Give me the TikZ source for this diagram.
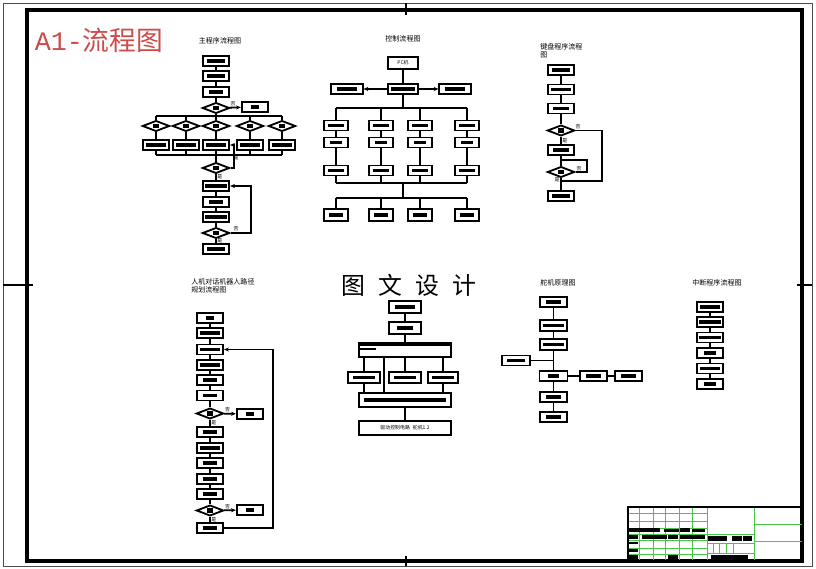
\documentclass[tikz,border=0pt]{standalone}
\usepackage{fontspec}
\newfontfamily\cjk{Noto Sans CJK SC}
\newfontfamily\latinmono{Liberation Mono}
\usetikzlibrary{shapes.geometric, arrows.meta}

\newcommand{\tb}[1][4.6]{\rule{#1mm}{0.8mm}}
\newcommand{\db}{\rule{1.6mm}{1.1mm}}

\definecolor{stamp}{RGB}{205,75,75}
\definecolor{gridgreen}{RGB}{70,200,70}

\tikzset{
  box/.style={draw, line width=1.3pt, minimum width=6.6mm, minimum height=2.5mm, inner sep=0pt, fill=white},
  dec/.style={diamond, draw, line width=1.3pt, minimum width=6.8mm, minimum height=2.6mm, inner sep=0pt, fill=white},
  ln/.style={line width=1.3pt},
  arr/.style={line width=1.3pt, -{Stealth[length=1.2mm,width=1mm]}},
  ttl/.style={font=\cjk\fontsize{5}{6}\selectfont, inner sep=0pt},
  lbl/.style={font=\cjk\fontsize{3.5}{4}\selectfont, inner sep=0.3pt},
  grid/.style={draw=gridgreen, line width=0.5pt}
}

\begin{document}
\begin{tikzpicture}[x=0.25mm, y=-0.25mm]
  \useasboundingbox (0,0) rectangle (816,569);
  \fill[white] (0,0) rectangle (816,569);

  % sheet frame
  \draw[black!70, line width=0.6pt] (3,3) rectangle (812,566);
  \draw[line width=2.2pt] (27,10) rectangle (802,561);
  \draw[line width=2pt] (406,3) -- (406,15);
  \draw[line width=2pt] (406,556) -- (406,566);
  \draw[line width=2pt] (3,285) -- (33,285);
  \draw[line width=2pt] (797,285) -- (812,285);

  \node[text=stamp, inner sep=0pt] (stamp) at (99,40)
    {\fontsize{19}{20}\selectfont\latinmono A1-\cjk 流程图};

  % main program
  \node[ttl] at (220,41) {主程序流程图};
  \node[box] (m1) at (216,61) {\tb};
  \node[box] (m2) at (216,76) {\tb};
  \node[box] (m3) at (216,92) {\tb[3.6]};
  \node[dec] (md1) at (216,108) {\db};
  \node[box] (mn) at (255,107) {\tb[2]};
  \coordinate (mtop) at (216,116);
  \coordinate (mbot) at (216,155);
  \node[dec] (md2) at (216,168) {\db};
  \node[box] (m4) at (216,186) {\tb[5.4]};
  \node[box] (m5) at (216,202) {\tb[3.6]};
  \node[box] (m6) at (216,217) {\tb[5.4]};
  \node[dec] (md3) at (216,233) {\db};
  \node[box] (m7) at (216,249) {\tb};
  \draw[ln] (m1) -- (m2);
  \draw[ln] (m2) -- (m3);
  \draw[ln] (m3) -- (md1);
  \draw[arr] (md1) -- node[lbl, above, pos=0.3] {否} (mn);
  \draw[ln] (md1) -- (mtop);
  \foreach \i/\x in {1/156,2/186,3/216,4/250,5/282} {
    \node[dec] (mq\i) at (\x,126) {\db};
    \node[box] (mp\i) at (\x,145) {\tb[5.2]};
    \draw[ln] (mq\i) -- (mp\i);
    \draw[ln] (mq\i.north) -- (mq\i.north |- mtop);
    \draw[ln] (mp\i.south) -- (mp\i.south |- mbot);
  }
  \draw[ln] (mq1.north |- mtop) -- (mq5.north |- mtop);
  \draw[ln] (mp1.south |- mbot) -- (mp5.south |- mbot);
  \draw[ln] (mbot) -- (md2);
  \draw[arr] (md2.east) -| (234,145) -- (mp3.east);
  \node[lbl] at (236,158) {是};
  \draw[ln] (md2) -- node[lbl, right] {是} (m4);
  \draw[ln] (m4) -- (m5);
  \draw[ln] (m5) -- (m6);
  \draw[ln] (m6) -- (md3);
  \draw[arr] (md3.east) -| (251,186) -- (m4.east);
  \node[lbl] at (236,229) {否};
  \draw[ln] (md3) -- node[lbl, right] {是} (m7);

  % control
  \node[ttl] at (403,39) {控制流程图};
  \node[box, minimum width=7.3mm, minimum height=3mm, font=\cjk\fontsize{3.5}{4}\selectfont] (pc) at (403,63) {PC机};
  \node[box, minimum width=7.5mm] (cm) at (403,89) {\tb[5.8]};
  \node[box, minimum width=7.8mm] (cl) at (347,89) {\tb[5.2]};
  \node[box, minimum width=7.8mm] (cr) at (455,89) {\tb[5.2]};
  \draw[ln] (pc) -- (cm);
  \draw[arr] (cm) -- (cl);
  \draw[arr] (cm) -- (cr);
  \coordinate (cbus1) at (403,108);
  \coordinate (cbus2) at (403,183);
  \coordinate (cbus3) at (403,198);
  \draw[ln] (cm) -- (cbus1);
  \foreach \i/\x in {1/336,2/381,3/420,4/467} {
    \node[box, minimum width=5.9mm] (ca\i) at (\x,125.5) {\tb[3.8]};
    \node[box, minimum width=5.9mm] (cb\i) at (\x,142.5) {\tb[3]};
    \node[box, minimum width=5.9mm] (cc\i) at (\x,170.5) {\tb[3.8]};
    \node[box, minimum width=5.9mm, minimum height=2.9mm] (cd\i) at (\x,215) {\tb[3.6]};
    \draw[ln] (ca\i.north) -- (ca\i.north |- cbus1);
    \draw[ln] (ca\i) -- (cb\i);
    \draw[ln] (cb\i) -- (cc\i);
    \draw[ln] (cc\i.south) -- (cc\i.south |- cbus2);
    \draw[ln] (cd\i.north) -- (cd\i.north |- cbus3);
  }
  \draw[ln] (ca1.north |- cbus1) -- (ca4.north |- cbus1);
  \draw[ln] (cc1.south |- cbus2) -- (cc4.south |- cbus2);
  \draw[ln] (cbus2) -- (cbus3);
  \draw[ln] (cd1.north |- cbus3) -- (cd4.north |- cbus3);

  % keyboard
  \node[ttl, anchor=north west, align=left] at (540,43) {键盘程序流程\\图};
  \node[box] (k1) at (561,70) {\tb};
  \node[box] (k2) at (561,89.5) {\tb[5.2]};
  \node[box] (k3) at (561,108.5) {\tb[4]};
  \node[dec] (kd1) at (561,130.5) {\db};
  \node[box] (k4) at (561,150) {\tb[4]};
  \node[dec] (kd2) at (561,172) {\db};
  \node[box] (k5) at (561,196) {\tb};
  \coordinate (kj1) at (561,181);
  \coordinate (kj2) at (561,160);
  \draw[ln] (k1) -- (k2);
  \draw[ln] (k2) -- (k3);
  \draw[ln] (k3) -- (kd1);
  \draw[ln] (kd1) -- node[lbl, right] {是} (k4);
  \draw[ln] (k4) -- (kd2);
  \draw[ln] (kd2) -- (k5);
  \draw[ln] (kd1.east) -| (602,181) -- (kj1);
  \draw[ln] (kd2.east) -| (587,160) -- (kj2);
  \node[lbl] at (578,127) {否};
  \node[lbl] at (579,169) {否};
  \node[lbl] at (557,180) {是};

  % path planning
  \node[ttl, anchor=north west, align=left] at (191,278) {人机对话机器人路径\\规划流程图};
  \foreach \n/\y/\w in {p1/318/2, p2/333/4.8, p3/349.5/4.8, p4/365/5.2, p5/380/3.6, p6/395.5/3.6,
                        p7/432/3.6, p8/448/5.2, p9/463/3.6, p10/479/3.6, p11/494/3.6, p12/528/3.6}
    \node[box] (\n) at (210,\y) {\tb[\w]};
  \node[dec] (pd1) at (210,413.5) {\db};
  \node[dec] (pd2) at (210,510.5) {\db};
  \node[box] (pn1) at (250,414) {\tb[2]};
  \node[box] (pn2) at (250,510) {\tb[2]};
  \foreach \a/\b in {p1/p2, p2/p3, p3/p4, p4/p5, p5/p6, p6/pd1, p7/p8, p8/p9, p9/p10, p10/p11, p11/pd2}
    \draw[ln] (\a) -- (\b);
  \draw[ln] (pd1) -- node[lbl, right] {是} (p7);
  \draw[ln] (pd2) -- node[lbl, right] {是} (p12);
  \draw[arr] (pd1) -- node[lbl, above, pos=0.3] {否} (pn1);
  \draw[arr] (pd2) -- node[lbl, above, pos=0.3] {否} (pn2);
  \draw[arr] (p12.east) -| (273,349.5) -- (p3.east);

  % hardware structure
  \node[font=\cjk\fontsize{17}{18}\selectfont, inner sep=0pt] (wm) at (409,285)
    {图\hspace{0.55em}文\hspace{0.55em}设\hspace{0.55em}计};
  \node[box, minimum width=7.8mm, minimum height=2.8mm] (h1) at (405,307) {\tb[5]};
  \node[box, minimum width=8mm, minimum height=3mm] (h2) at (405,328) {\tb[4]};
  \node[box, minimum width=23mm, minimum height=3.5mm] (h3) at (405,350) {};
  \fill ([xshift=0.4mm,yshift=-0.4mm]h3.north west) rectangle ([xshift=-0.4mm,yshift=-1.1mm]h3.north east);
  \fill ([xshift=0.4mm,yshift=-1.5mm]h3.north west) rectangle ([xshift=4.5mm,yshift=-2.1mm]h3.north west);
  \node[box, minimum width=7.8mm, minimum height=2.8mm] (h4) at (364,377.5) {\tb[5.6]};
  \node[box, minimum width=7.8mm, minimum height=2.8mm] (h5) at (405,377.5) {\tb[5.6]};
  \node[box, minimum width=7.6mm, minimum height=2.8mm] (h6) at (443,377.5) {\tb[5.6]};
  \node[box, minimum width=23mm, minimum height=3.5mm] (h7) at (405,400) {\rule{20.5mm}{1.2mm}};
  \node[box, minimum width=23mm, minimum height=3.3mm, font=\cjk\fontsize{3.5}{4}\selectfont] (h8) at (405,428)
    {驱动控制电路\hspace{0.6em}舵机1.2};
  \coordinate (hx) at (384,360);
  \draw[ln] (h1) -- (h2);
  \draw[ln] (h2) -- (h3);
  \foreach \n in {h4,h5,h6}
    \draw[ln] (\n.north) -- (\n.north |- h3.south);
  \draw[ln] (hx |- h3.south) -- (hx |- h7.north);
  \draw[ln] (h4.south) -- (h4.south |- h7.north);
  \draw[ln] (h6.south) -- (h6.south |- h7.north);
  \draw[ln] (h7) -- (h8);

  % servo
  \node[ttl] at (558,283) {舵机原理图};
  \node[box] (s1) at (553.5,302) {\tb[3.6]};
  \node[box, minimum height=2.8mm] (s2) at (553.5,325.5) {\tb[5.4]};
  \node[box, minimum height=2.8mm] (s3) at (553.5,344.5) {\tb[5.4]};
  \node[box, minimum width=7mm] (s4) at (553.5,376) {\tb[2.8]};
  \node[box] (s5) at (553.5,397) {\tb[3.6]};
  \node[box] (s6) at (553.5,417) {\tb[3.6]};
  \node[box, minimum width=7mm] (sl) at (516,360.5) {\tb[4.4]};
  \node[box, minimum width=6.8mm] (sr1) at (593.5,376) {\tb[3.6]};
  \node[box, minimum width=6.8mm] (sr2) at (628.5,376) {\tb[3.6]};
  \draw[ln] (s1) -- (s2);
  \draw[ln] (s2) -- (s3);
  \draw[ln] (s3) -- (s4);
  \draw[ln] (s4) -- (s5);
  \draw[ln] (s5) -- (s6);
  \draw[ln] (sl.east) -- (sl.east -| s3.south);
  \draw[ln] (s4) -- (sr1);
  \draw[ln] (sr1) -- (sr2);

  % interrupt
  \node[ttl] at (717,283) {中断程序流程图};
  \foreach \n/\y/\w in {i1/307/4.8, i2/322/5.6, i3/337.5/5.6, i4/353/3, i5/368.5/4.8, i6/384/3}
    \node[box] (\n) at (710,\y) {\tb[\w]};
  \foreach \a/\b in {i1/i2, i2/i3, i3/i4, i4/i5, i5/i6}
    \draw[ln] (\a) -- (\b);

  % title block
  \foreach \x in {639,653,665,679,692,707,754}
    \draw[grid] (\x,508) -- (\x,560);
  \foreach \y in {513,521,528,534,540,548,554}
    \draw[grid] (629,\y) -- (707,\y);
  \foreach \y in {534,543,553}
    \draw[grid] (707,\y) -- (754,\y);
  \foreach \x in {713,719,726,733}
    \draw[grid] (\x,543) -- (\x,553);
  \foreach \y in {524,541}
    \draw[grid] (754,\y) -- (802,\y);
  \foreach \xa/\ya/\xb/\yb in {629/528/660/532, 664/529/679/532, 680/528/690/532, 692/529/705/532,
      629/535/638/539, 642/535/667/539, 668/535/678/539, 680/535/705/539,
      708/536/727/541, 732/536/742/541, 743/536/752/541,
      629/542/638/544, 629/549/638/552, 629/555/638/560, 668/555/678/560, 711/555/748/559}
    \fill (\xa,\ya) rectangle (\xb,\yb);
  \draw[line width=2pt] (628,561) -- (628,507) -- (802,507);
\end{tikzpicture}
\end{document}
